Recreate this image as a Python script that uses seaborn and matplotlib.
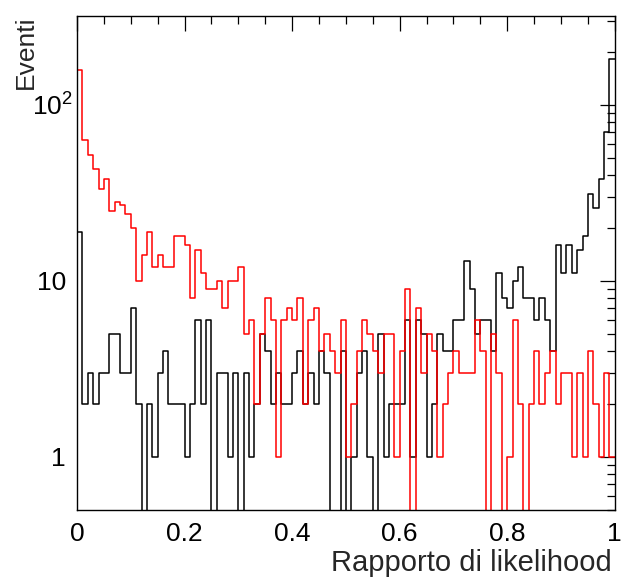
import numpy as np
import pandas as pd
import matplotlib
matplotlib.use("Agg")
import matplotlib.pyplot as plt
import seaborn as sns
from matplotlib.ticker import MultipleLocator, LogLocator, FixedLocator, FixedFormatter, NullFormatter

# ---------------- data (counts per bin, 100 bins on [0, 1]) ----------------
n_bins = 100
x_range = (0.0, 1.0)

red_counts = [
    158, 63, 52, 43, 33, 38, 25, 28, 27, 24,
    20, 10, 14, 19, 12, 14, 12, 12, 18, 18,
    16, 8, 15, 11, 9, 9, 10, 7, 10, 10,
    12, 5, 6, 2, 5, 8, 6, 1, 6, 7,
    6, 8, 2, 6, 7, 4, 5, 4, 3, 6,
    1, 2, 4, 6, 5, 4, 3, 5, 5, 1,
    4, 9, 0, 7, 3, 5, 4, 1, 2, 3,
    4, 3, 3, 3, 6, 4, 0, 5, 3, 0,
    1, 6, 2, 0, 2, 4, 2, 3, 4, 2,
    3, 3, 1, 3, 1, 4, 2, 1, 3, 1,
]

black_counts = [
    19, 2, 3, 2, 3, 3, 5, 5, 3, 3,
    7, 2, 0, 2, 1, 3, 4, 2, 2, 2,
    1, 2, 6, 2, 6, 0, 3, 3, 1, 3,
    0, 3, 1, 2, 5, 4, 2, 3, 2, 2,
    3, 4, 2, 3, 2, 4, 3, 0, 0, 4,
    0, 1, 3, 4, 1, 0, 5, 1, 2, 2,
    2, 6, 1, 6, 5, 1, 2, 5, 4, 4,
    6, 6, 13, 9, 5, 6, 6, 4, 11, 8,
    7, 10, 12, 8, 8, 6, 8, 6, 4, 16,
    11, 16, 11, 15, 18, 31, 26, 38, 70, 181,
]

x_label = "Rapporto di likelihood"
y_label = "Eventi"
x_ticks = [0.0, 0.2, 0.4, 0.6, 0.8, 1.0]
x_tick_labels = ["0", "0.2", "0.4", "0.6", "0.8", "1"]
y_ticks = [1, 10, 100]
y_tick_labels = ["1", "10", r"$\mathregular{10^{2}}$"]

# ---------------- figure ----------------
sns.set_style("white")
plt.rcParams["font.family"] = ["Liberation Sans", "DejaVu Sans"]
plt.rcParams["mathtext.fontset"] = "custom"
plt.rcParams["mathtext.rm"] = "Liberation Sans"

fig = plt.figure(figsize=(6.21, 5.82), dpi=100)
ax = fig.add_axes([0.124, 0.124, 0.866, 0.849])

centers = (np.arange(n_bins) + 0.5) / n_bins
df_black = pd.DataFrame({"x": centers, "w": black_counts})
df_red = pd.DataFrame({"x": centers, "w": red_counts})

sns.histplot(data=df_black, x="x", weights="w", bins=n_bins, binrange=x_range,
             element="step", fill=False, color="black", linewidth=1.1, ax=ax)
sns.histplot(data=df_red, x="x", weights="w", bins=n_bins, binrange=x_range,
             element="step", fill=False, color="#ff0000", linewidth=1.1, ax=ax)

ax.set_yscale("log")
ax.set_xlim(*x_range)
ax.set_ylim(0.5, 320)

ax.xaxis.set_major_locator(FixedLocator(x_ticks))
ax.xaxis.set_major_formatter(FixedFormatter(x_tick_labels))
ax.xaxis.set_minor_locator(MultipleLocator(0.05))
ax.yaxis.set_major_locator(FixedLocator(y_ticks))
# the 10^2 label sits closer to the axis in the reference: draw it separately
ax.yaxis.set_major_formatter(FixedFormatter(y_tick_labels[:2] + [""]))
ax.text(-0.008, y_ticks[2], y_tick_labels[2], transform=ax.get_yaxis_transform(),
        ha="right", va="center_baseline", fontsize=19, color="black")
ax.yaxis.set_minor_locator(LogLocator(base=10, subs=np.arange(2, 10)))
ax.yaxis.set_minor_formatter(NullFormatter())

ax.tick_params(which="both", direction="in", top=True, right=True,
               colors="black", width=0.9, labelsize=19)
ax.tick_params(which="major", length=11)
ax.tick_params(which="minor", length=5.5)
ax.tick_params(axis="x", which="major", pad=9)
ax.tick_params(axis="y", which="major", pad=8)

for sp in ax.spines.values():
    sp.set_color("black")
    sp.set_linewidth(1.0)

ax.set_xlabel(x_label, fontsize=21, loc="right")
ax.xaxis.set_label_coords(0.995, -0.08)
ax.set_ylabel(y_label, fontsize=19, loc="top")
ax.yaxis.set_label_coords(-0.072, 1.0)

fig.savefig("out.png", dpi=100, facecolor="white")
